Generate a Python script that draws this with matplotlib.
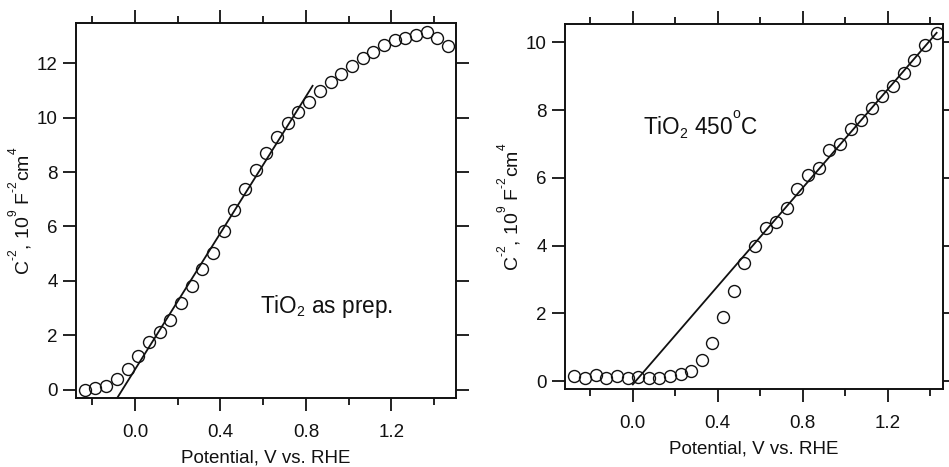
import matplotlib
matplotlib.use("Agg")
import matplotlib.pyplot as plt
from matplotlib.ticker import MultipleLocator

try:
    import matplotlib._mathtext as _mt
    _mt.FontConstantsBase.sup1 = 1.25
    _mt.SHRINK_FACTOR = 0.62
except Exception:
    pass

plt.rcParams['font.family'] = ['Liberation Sans', 'DejaVu Sans']
plt.rcParams['mathtext.fontset'] = 'custom'
plt.rcParams['mathtext.rm'] = 'Liberation Sans'
plt.rcParams['mathtext.default'] = 'regular'

# ---- data: TiO2 as prepared ----
asprep_v = [-0.235, -0.185, -0.135, -0.085, -0.035, 0.015, 0.065, 0.115, 0.165, 0.215,
            0.265, 0.315, 0.365, 0.415, 0.465, 0.515, 0.565, 0.615, 0.665, 0.715,
            0.765, 0.815, 0.865, 0.915, 0.965, 1.015, 1.065, 1.115, 1.165, 1.215,
            1.265, 1.315, 1.365, 1.415, 1.465]
asprep_c = [0.00, 0.05, 0.15, 0.39, 0.76, 1.23, 1.74, 2.13, 2.56, 3.18,
            3.81, 4.43, 5.04, 5.82, 6.61, 7.37, 8.08, 8.69, 9.28, 9.79,
            10.22, 10.59, 10.98, 11.30, 11.62, 11.91, 12.21, 12.40, 12.67, 12.87,
            12.94, 13.04, 13.14, 12.94, 12.65]
asprep_fit_v = [-0.083, 0.831]
asprep_fit_c = [-0.30, 11.17]

# ---- data: TiO2 450 C ----
ann_v = [-0.275, -0.225, -0.175, -0.125, -0.075, -0.025, 0.025, 0.075, 0.125, 0.175,
         0.225, 0.275, 0.325, 0.375, 0.425, 0.475, 0.525, 0.575, 0.625, 0.675,
         0.725, 0.775, 0.825, 0.875, 0.925, 0.975, 1.025, 1.075, 1.125, 1.175,
         1.225, 1.275, 1.325, 1.375, 1.430]
ann_c = [0.16, 0.08, 0.18, 0.08, 0.16, 0.08, 0.12, 0.10, 0.08, 0.16,
         0.20, 0.30, 0.61, 1.12, 1.89, 2.66, 3.48, 3.99, 4.51, 4.70,
         5.12, 5.67, 6.08, 6.30, 6.81, 6.99, 7.44, 7.70, 8.05, 8.41,
         8.70, 9.09, 9.47, 9.92, 10.27]
ann_fit_v = [0.0, 1.43]
ann_fit_c = [-0.10, 10.28]

xlabel = 'Potential, V vs. RHE'
ylabel = 'C$^{\u2010 2}$, 10$^{9}$ F$^{\u2010 2}$cm$^{4}$'
label1 = r'TiO$_2$ as prep.'
label2 = r'TiO$_2$ 450$^{o}$C'

fs = 13.5
fig = plt.figure(figsize=(9.49, 4.67), dpi=100)
ax1 = fig.add_axes([0.0801, 0.1478, 0.4004, 0.8030])
ax2 = fig.add_axes([0.5954, 0.1670, 0.3983, 0.7816])


def style(ax, xlim, ylim):
    ax.set_xlim(*xlim)
    ax.set_ylim(*ylim)
    ax.xaxis.set_major_locator(MultipleLocator(0.4))
    ax.xaxis.set_minor_locator(MultipleLocator(0.2))
    ax.yaxis.set_major_locator(MultipleLocator(2))
    ax.xaxis.set_major_formatter(matplotlib.ticker.FormatStrFormatter('%.1f'))
    ax.tick_params(which='both', direction='out', top=True, right=True,
                   width=1.3, color='#111111', labelsize=fs, labelcolor='#111111')
    ax.tick_params(which='major', length=9.5)
    ax.tick_params(which='minor', length=5)
    ax.tick_params(axis='x', which='major', pad=9)
    ax.tick_params(axis='y', which='major', pad=3.5)
    for s in ax.spines.values():
        s.set_linewidth(1.4)
        s.set_color('#111111')
    ax.set_xlabel(xlabel, fontsize=fs, color='#111111', labelpad=6)
    ax.set_ylabel(ylabel, fontsize=14, color='#111111')
    ax.yaxis.set_label_coords(-0.108, 0.5)


style(ax1, (-0.276, 1.502), (-0.305, 13.48))
style(ax2, (-0.319, 1.460), (-0.236, 10.54))

ax1.plot(asprep_fit_v, asprep_fit_c, color='#111111', lw=1.3, zorder=2)
ax1.plot(asprep_v, asprep_c, 'o', mfc='none', mec='#111111', mew=1.0, ms=8.6, zorder=3)
ax1.text(0.585, 2.81, label1, fontsize=16.3, color='#111111', ha='left', va='baseline')

ax2.plot(ann_fit_v, ann_fit_c, color='#111111', lw=1.3, zorder=2)
ax2.plot(ann_v, ann_c, 'o', mfc='none', mec='#111111', mew=1.0, ms=8.6, zorder=3)
ax2.text(0.048, 7.26, label2, fontsize=16.3, color='#111111', ha='left', va='baseline')

fig.savefig('out.png', dpi=100)
